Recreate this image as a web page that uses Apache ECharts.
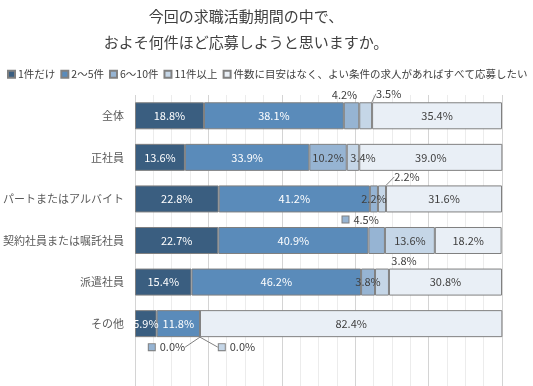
<!DOCTYPE html>
<html>
<head>
<meta charset="utf-8">
<script src="https://cdn.jsdelivr.net/npm/echarts@6/dist/echarts.min.js"></script>
<style>html,body{margin:0;padding:0;background:#fff}#c{width:533px;height:386px}</style>
</head>
<body>
<div id="c"></div>
<script>
const categories = ['全体','正社員','パートまたはアルバイト','契約社員または嘱託社員','派遣社員','その他'];
const seriesNames = ['1件だけ','2〜5件','6〜10件','11件以上','件数に目安はなく、よい条件の求人があればすべて応募したい'];
const oneOnly    = [18.8, 13.6, 22.8, 22.7, 15.4, 5.9];
const twoToFive  = [38.1, 33.9, 41.2, 40.9, 46.2, 11.8];
const sixToTen   = [4.2, 10.2, 2.2, 4.5, 3.8, 0.0];
const elevenPlus = [3.5, 3.4, 2.2, 13.6, 3.8, 0.0];
const applyAll   = [35.4, 39.0, 31.6, 18.2, 30.8, 82.4];
const xTicks = [0, 20, 40, 60, 80, 100];

const values = [oneOnly, twoToFive, sixToTen, elevenPlus, applyAll];
const colors = ['#3a5e80', '#5a8bba', '#96b4d3', '#c5d6e7', '#e9eff6'];
const labelColors = ['#ffffff', '#ffffff', '#404040', '#404040', '#404040'];
const FONT = 'Noto Sans CJK JP';

// label placement tweaks: key "series,index"
const special = {
  '2,0': {pos: 'top', dx: -7, dy: 0},
  '3,0': {pos: 'top', dx: 23, dy: -1, line: true},
  '3,1': {pos: 'inside', dx: 10, dy: 0},
  '3,2': {pos: 'top', dx: 25, dy: -1, line: true},
  '2,3': {pos: 'top', dx: -16, dy: 0, key: true},
  '3,4': {pos: 'top', dx: 22, dy: 0},
  '2,5': {pos: 'bottom', dx: -33, dy: 2, line: true, key: true},
  '3,5': {pos: 'bottom', dx: 37, dy: 2, line: true, key: true}
};

const series = values.map((arr, si) => ({
  name: seriesNames[si],
  type: 'bar',
  stack: 'total',
  barWidth: '65%',
  itemStyle: {color: colors[si], borderColor: '#808080', borderWidth: 1},
  label: {
    show: true, position: 'inside', fontFamily: FONT, fontSize: 11, color: labelColors[si],
    formatter: p => p.value.toFixed(1) + '%'
  },
  labelLine: {show: false, lineStyle: {color: '#808080', width: 1}},
  labelLayout: function (p) {
    const s = special[si + ',' + p.dataIndex];
    if (s) return {dx: s.dx, dy: s.dy};
    return {};
  },
  data: arr.map((v, di) => {
    const s = special[si + ',' + di];
    if (!s) return v;
    const item = {value: v, label: {position: s.pos, distance: 2, color: '#404040'}};
    if (s.key) {
      item.label.formatter = p => '{k|}  ' + p.value.toFixed(1) + '%';
      item.label.rich = {k: {width: 6, height: 6, backgroundColor: colors[si], borderColor: '#808080', borderWidth: 1}};
    }
    if (s.line) item.labelLine = {show: true, lineStyle: {color: '#808080', width: 1}};
    return item;
  })
}));

const chart = echarts.init(document.getElementById('c'));
chart.setOption({
  animation: false,
  textStyle: {fontFamily: FONT},
  title: {
    text: '今回の求職活動期間の中で、\nおよそ何件ほど応募しようと思いますか。',
    left: 246, top: 3, padding: 0, textAlign: 'center',
    textStyle: {fontFamily: FONT, fontSize: 15, fontWeight: 'normal', color: '#404040', lineHeight: 26}
  },
  legend: {
    left: 7, right: 0, top: 69, padding: 0, itemGap: 5, itemWidth: 7, itemHeight: 7, icon: 'rect',
    textStyle: {fontFamily: FONT, fontSize: 10.5, color: '#404040', padding: [0, 0, 0, -2]},
    data: seriesNames
  },
  grid: {left: 133, right: 31, top: 95, height: 322, containLabel: false},
  xAxis: {
    type: 'value', min: xTicks[0], max: xTicks[xTicks.length - 1], interval: 20,
    axisLabel: {show: false}, axisLine: {show: false}, axisTick: {show: false},
    splitLine: {show: true, lineStyle: {color: '#d4d4d4'}},
    minorTick: {show: false, splitNumber: 4},
    minorSplitLine: {show: true, lineStyle: {color: '#ececec'}}
  },
  yAxis: {
    type: 'category', inverse: true, data: categories.concat(['']),
    axisLine: {show: false}, axisTick: {show: false},
    axisLabel: {fontFamily: FONT, fontSize: 11, color: '#595959', margin: 11}
  },
  series: series
});
</script>
</body>
</html>
